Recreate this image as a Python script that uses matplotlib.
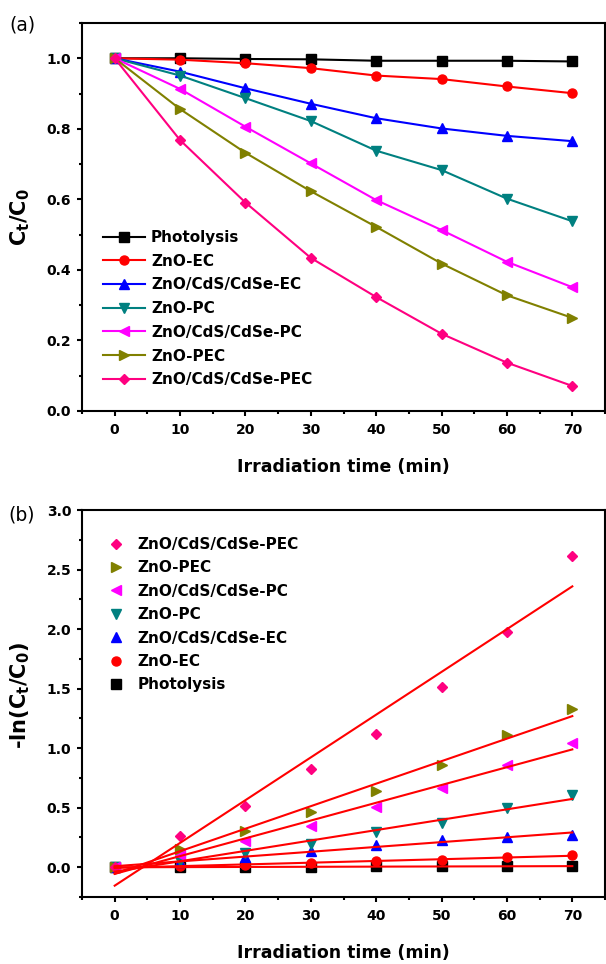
import matplotlib
matplotlib.use('Agg')
import numpy as np
import matplotlib.pyplot as plt
from matplotlib.ticker import MultipleLocator

plt.rcParams['font.family'] = 'DejaVu Sans'
plt.rcParams['font.weight'] = 'bold'
plt.rcParams['axes.labelweight'] = 'bold'
plt.rcParams['mathtext.fontset'] = 'dejavusans'
plt.rcParams['mathtext.default'] = 'bf'

t = [0, 10, 20, 30, 40, 50, 60, 70]

names = ['Photolysis', 'ZnO-EC', 'ZnO/CdS/CdSe-EC', 'ZnO-PC',
         'ZnO/CdS/CdSe-PC', 'ZnO-PEC', 'ZnO/CdS/CdSe-PEC']
colors = ['#000000', '#ff0000', '#0000ff', '#008080', '#ff00ff', '#808000', '#ff0080']
markers = ['s', 'o', '^', 'v', '<', '>', 'D']

# C/C0 curves
photolysis = [1.0, 1.0, 0.998, 0.997, 0.993, 0.993, 0.993, 0.991]
zno_ec = [1.0, 0.996, 0.986, 0.972, 0.951, 0.941, 0.920, 0.901]
zcc_ec = [1.0, 0.962, 0.915, 0.871, 0.830, 0.801, 0.780, 0.765]
zno_pc = [1.0, 0.951, 0.887, 0.822, 0.738, 0.683, 0.602, 0.538]
zcc_pc = [1.0, 0.913, 0.806, 0.702, 0.598, 0.513, 0.423, 0.351]
zno_pec = [1.0, 0.856, 0.732, 0.623, 0.522, 0.418, 0.328, 0.264]
zcc_pec = [1.0, 0.768, 0.591, 0.434, 0.323, 0.219, 0.137, 0.071]
ratio = [photolysis, zno_ec, zcc_ec, zno_pc, zcc_pc, zno_pec, zcc_pec]

# -ln(C/C0) points
ln_photolysis = [0.0, 0.0, 0.002, 0.003, 0.007, 0.007, 0.007, 0.009]
ln_zno_ec = [0.0, 0.008, 0.022, 0.036, 0.050, 0.064, 0.084, 0.100]
ln_zcc_ec = [0.0, 0.042, 0.084, 0.140, 0.190, 0.226, 0.252, 0.268]
ln_zno_pc = [0.0, 0.056, 0.120, 0.196, 0.294, 0.372, 0.498, 0.609]
ln_zcc_pc = [0.0, 0.106, 0.218, 0.344, 0.503, 0.665, 0.855, 1.043]
ln_zno_pec = [0.0, 0.157, 0.307, 0.461, 0.637, 0.861, 1.107, 1.328]
ln_zcc_pec = [0.0, 0.260, 0.512, 0.825, 1.118, 1.512, 1.974, 2.614]
lnratio = [ln_photolysis, ln_zno_ec, ln_zcc_ec, ln_zno_pc, ln_zcc_pc, ln_zno_pec, ln_zcc_pec]

W, H = 606, 964
fig = plt.figure(figsize=(W / 100, H / 100), dpi=100)

def px_axes(l, r, top, bot):
    return fig.add_axes([l / W, 1 - bot / H, (r - l) / W, (bot - top) / H])

def style(ax):
    for s in ax.spines.values():
        s.set_linewidth(1.5)
    ax.tick_params(which='both', direction='out', top=False, right=False, width=1.5, labelsize=10)
    ax.tick_params(which='major', length=3.8, pad=4)
    ax.tick_params(which='minor', length=2.2)
    ax.tick_params(axis='x', which='major', pad=5)
    ax.set_xlim(-5, 75)
    ax.xaxis.set_major_locator(MultipleLocator(10))
    ax.xaxis.set_minor_locator(MultipleLocator(5))
    ax.set_xlabel('Irradiation time (min)', fontsize=12.5, va='center')
    ax.xaxis.set_label_coords(0.5, -0.145)

def marker_size(m):
    return 5.5 if m == 'D' else 6.5

ax1 = px_axes(82, 605, 23, 411)
style(ax1)
for y, n, c, m in zip(ratio, names, colors, markers):
    ax1.plot(t, y, color=c, marker=m, ms=marker_size(m), lw=1.5, label=n)
ax1.set_ylim(0, 1.1)
ax1.yaxis.set_major_locator(MultipleLocator(0.2))
ax1.yaxis.set_minor_locator(MultipleLocator(0.1))
ax1.set_ylabel(r'$C_t/C_0$', fontsize=15, va='center')
ax1.yaxis.set_label_coords(-0.118, 0.5)
ax1.legend(loc='upper left', bbox_to_anchor=((103 - 82) / 523, (411 - 230) / 388), frameon=False,
           fontsize=11, handlelength=2.75, handletextpad=0.4, labelspacing=0.57,
           borderpad=0, borderaxespad=0)
fig.text(9 / W, 1 - 25 / H, '(a)', fontsize=13.5, fontweight='normal', va='center', ha='left')

ax2 = px_axes(82, 605, 510, 897)
style(ax2)
xs = np.array(t)
for y, n, c, m in zip(lnratio, names, colors, markers):
    ax2.plot(t, y, ls='none', color=c, marker=m, ms=marker_size(m), label=n)
for y in lnratio:
    k, b = np.polyfit(xs, y, 1)
    ax2.plot([0, 70], [b, k * 70 + b], color='#ff0000', lw=1.5)
ax2.set_ylim(-0.25, 3.0)
ax2.yaxis.set_major_locator(MultipleLocator(0.5))
ax2.yaxis.set_minor_locator(MultipleLocator(0.25))
ax2.set_ylabel(r'-ln($C_t/C_0$)', fontsize=15, va='center')
ax2.yaxis.set_label_coords(-0.118, 0.52)
h, l = ax2.get_legend_handles_labels()
ax2.legend(h[::-1], l[::-1], loc='upper left', bbox_to_anchor=((107 - 82) / 523, (897 - 537) / 387),
           frameon=False, fontsize=11, handlelength=1.2, handletextpad=0.8, labelspacing=0.55,
           borderpad=0, borderaxespad=0)
fig.text(8 / W, 1 - 515 / H, '(b)', fontsize=13.5, fontweight='normal', va='center', ha='left')

fig.savefig('out.png', dpi=100)
